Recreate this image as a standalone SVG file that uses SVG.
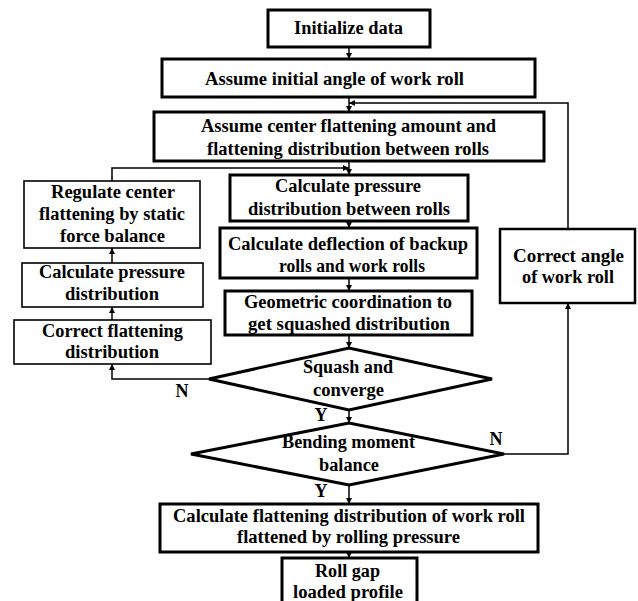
<svg xmlns="http://www.w3.org/2000/svg" width="638" height="601" viewBox="0 0 638 601">
<defs>
<marker id="ah" viewBox="0 0 10 10" refX="10" refY="5" markerWidth="7" markerHeight="6" markerUnits="userSpaceOnUse" orient="auto">
<path d="M0,0 L10,5 L0,10 z" fill="#000"/>
</marker>
<style>
.bx{fill:#fff;stroke:#000;stroke-width:3}
.bt{fill:#fff;stroke:#000;stroke-width:1.6}
.t{font-family:"Liberation Serif","Times New Roman",serif;font-weight:bold;font-size:18px;fill:#000;text-anchor:middle}
.c{fill:none;stroke:#000;stroke-width:1.5;marker-end:url(#ah)}
.cn{fill:none;stroke:#000;stroke-width:1.5}
</style>
</defs>
<rect width="638" height="601" fill="#fff"/>
<g id="connectors">
<path class="c" d="M349,47 V59"/>
<path class="c" d="M349,97 V112"/>
<path class="c" d="M349,161 V175"/>
<path class="c" d="M349,221 V228"/>
<path class="c" d="M349,278 V291"/>
<path class="c" d="M349,335 V348"/>
<path class="c" d="M349,410 V423"/>
<path class="c" d="M349,485 V504"/>
<path class="c" d="M349,552 V558"/>
<path class="c" d="M209,379 H112 V364"/>
<path class="c" d="M112,320 V307"/>
<path class="c" d="M112,263 V248"/>
<path class="c" d="M112,181 V168 H349"/>
<path class="c" d="M504,454 H568 V303"/>
<path class="c" d="M568,229 V103 H349"/>
</g>
<g id="init"><rect class="bx" x="268" y="10" width="162" height="37"/>
<text class="t" x="348.5" y="34" textLength="109" lengthAdjust="spacingAndGlyphs">Initialize data</text></g>
<g id="angle"><rect class="bx" x="162" y="59" width="373" height="38"/>
<text class="t" x="334.5" y="85" textLength="259" lengthAdjust="spacingAndGlyphs">Assume initial angle of  work roll</text></g>
<g id="centerflat"><rect class="bx" x="154" y="112" width="390" height="49"/>
<text class="t" x="348.5" y="132" textLength="295" lengthAdjust="spacingAndGlyphs">Assume center flattening amount and</text>
<text class="t" x="348" y="155" textLength="282" lengthAdjust="spacingAndGlyphs">flattening distribution between rolls</text></g>
<g id="calcpress"><rect class="bx" x="230" y="175" width="238" height="46"/>
<text class="t" x="348" y="192" textLength="146" lengthAdjust="spacingAndGlyphs">Calculate pressure</text>
<text class="t" x="349" y="215" textLength="202" lengthAdjust="spacingAndGlyphs">distribution between rolls</text></g>
<g id="deflection"><rect class="bx" x="220" y="228" width="257" height="50"/>
<text class="t" x="348" y="250" textLength="240" lengthAdjust="spacingAndGlyphs">Calculate deflection of backup</text>
<text class="t" x="352" y="272" textLength="146" lengthAdjust="spacingAndGlyphs">rolls and work rolls</text></g>
<g id="geometric"><rect class="bx" x="225" y="291" width="247" height="44"/>
<text class="t" x="348" y="308" textLength="208" lengthAdjust="spacingAndGlyphs">Geometric coordination to</text>
<text class="t" x="349" y="330" textLength="202" lengthAdjust="spacingAndGlyphs">get squashed distribution</text></g>
<g id="squash"><polygon class="bx" points="209,379 349,348 492,379 349,410"/>
<text class="t" x="348" y="373" textLength="90" lengthAdjust="spacingAndGlyphs">Squash and</text>
<text class="t" x="348.5" y="396" textLength="71" lengthAdjust="spacingAndGlyphs">converge</text></g>
<g id="bending"><polygon class="bx" points="191,454 349,423 504,454 349,485"/>
<text class="t" x="348.5" y="448" textLength="133" lengthAdjust="spacingAndGlyphs">Bending moment</text>
<text class="t" x="349" y="471" textLength="60" lengthAdjust="spacingAndGlyphs">balance</text></g>
<g id="calcflat"><rect class="bx" x="160" y="504" width="378" height="48"/>
<text class="t" x="349" y="522" textLength="352" lengthAdjust="spacingAndGlyphs">Calculate flattening distribution of work roll</text>
<text class="t" x="348.5" y="543" textLength="223" lengthAdjust="spacingAndGlyphs">flattened by rolling pressure</text></g>
<g id="rollgap"><rect class="bx" x="282" y="558" width="135" height="55"/>
<text class="t" x="347.5" y="577" textLength="65" lengthAdjust="spacingAndGlyphs">Roll gap</text>
<text class="t" x="348" y="598" textLength="110" lengthAdjust="spacingAndGlyphs">loaded profile</text></g>
<g id="regulate"><rect class="bt" x="24" y="181" width="176" height="67"/>
<text class="t" x="113" y="198" textLength="124" lengthAdjust="spacingAndGlyphs">Regulate center</text>
<text class="t" x="112" y="220" textLength="146" lengthAdjust="spacingAndGlyphs">flattening by static</text>
<text class="t" x="112.5" y="242" textLength="105" lengthAdjust="spacingAndGlyphs">force balance</text></g>
<g id="calcpressleft"><rect class="bt" x="22" y="263" width="181" height="44"/>
<text class="t" x="112" y="278" textLength="146" lengthAdjust="spacingAndGlyphs">Calculate pressure</text>
<text class="t" x="112" y="300" textLength="94" lengthAdjust="spacingAndGlyphs">distribution</text></g>
<g id="correctflat"><rect class="bt" x="14" y="320" width="197" height="44"/>
<text class="t" x="112.5" y="337" textLength="141" lengthAdjust="spacingAndGlyphs">Correct flattening</text>
<text class="t" x="112" y="358" textLength="94" lengthAdjust="spacingAndGlyphs">distribution</text></g>
<g id="correctangle"><rect class="bx" x="500" y="229" width="135" height="74" style="stroke-width:2.5"/>
<text class="t" x="568.5" y="262" textLength="111" lengthAdjust="spacingAndGlyphs">Correct angle</text>
<text class="t" x="568" y="283" textLength="92" lengthAdjust="spacingAndGlyphs">of work roll</text></g>
<g id="labels">
<text class="t" x="182" y="397">N</text>
<text class="t" x="321" y="421">Y</text>
<text class="t" x="496" y="445">N</text>
<text class="t" x="321" y="497">Y</text>
</g>
</svg>
